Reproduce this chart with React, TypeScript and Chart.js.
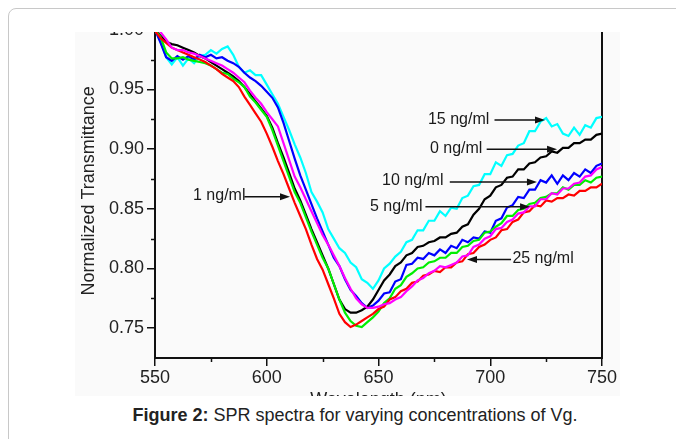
import React, { useEffect, useRef } from "react";
import { Chart, registerables } from "chart.js";

Chart.register(...registerables);

// ---------- data ----------
const WAVELENGTHS = [
  550, 552.5, 555, 557.5, 560, 562.5, 565, 567.5, 570, 572.5,
  575, 577.5, 580, 582.5, 585, 587.5, 590, 592.5, 595, 597.5,
  600, 602.5, 605, 607.5, 610, 612.5, 615, 617.5, 620, 622.5,
  625, 627.5, 630, 632.5, 635, 637.5, 640, 642.5, 645, 647.5,
  650, 652.5, 655, 657.5, 660, 662.5, 665, 667.5, 670, 672.5,
  675, 677.5, 680, 682.5, 685, 687.5, 690, 692.5, 695, 697.5,
  700, 702.5, 705, 707.5, 710, 712.5, 715, 717.5, 720, 722.5,
  725, 727.5, 730, 732.5, 735, 737.5, 740, 742.5, 745, 747.5, 750,
];

const T_0NG = [
  1.0, 0.995, 0.99, 0.988, 0.987, 0.985, 0.983, 0.981, 0.978, 0.976,
  0.973, 0.97, 0.967, 0.964, 0.961, 0.957, 0.952, 0.946, 0.94, 0.934,
  0.928, 0.918, 0.905, 0.893, 0.88, 0.867, 0.857, 0.845, 0.833, 0.822,
  0.811, 0.8, 0.787, 0.774, 0.766, 0.763, 0.763, 0.765, 0.768, 0.774,
  0.782, 0.79, 0.795, 0.802, 0.805, 0.811, 0.813, 0.818, 0.819, 0.822,
  0.823, 0.826, 0.826, 0.829, 0.83, 0.835, 0.837, 0.845, 0.85, 0.858,
  0.861, 0.868, 0.87, 0.876, 0.877, 0.883, 0.883, 0.888, 0.889, 0.893,
  0.894, 0.898, 0.897, 0.901, 0.901, 0.905, 0.905, 0.908, 0.908, 0.912, 0.913,
];

const T_1NG = [
  0.999, 0.993, 0.989, 0.985, 0.983, 0.981, 0.979, 0.977, 0.975, 0.973,
  0.97, 0.967, 0.963, 0.96, 0.957, 0.952, 0.944, 0.937, 0.93, 0.923,
  0.913, 0.902, 0.89, 0.879, 0.867, 0.855, 0.844, 0.833, 0.82, 0.808,
  0.799, 0.787, 0.775, 0.762, 0.755, 0.751, 0.753, 0.756, 0.759, 0.762,
  0.766, 0.768, 0.774, 0.776, 0.781, 0.783, 0.788, 0.789, 0.794, 0.795,
  0.798, 0.797, 0.801, 0.801, 0.805, 0.806, 0.812, 0.813, 0.818, 0.82,
  0.824, 0.826, 0.832, 0.833, 0.839, 0.841, 0.847, 0.848, 0.853, 0.852,
  0.857, 0.856, 0.859, 0.859, 0.862, 0.861, 0.865, 0.865, 0.868, 0.868, 0.871,
];

const T_5NG = [
  1.0, 0.994, 0.981, 0.976, 0.976, 0.977, 0.975, 0.974, 0.973, 0.972,
  0.97, 0.967, 0.964, 0.963, 0.959, 0.956, 0.952, 0.944, 0.939, 0.933,
  0.927, 0.916, 0.903, 0.89, 0.877, 0.864, 0.855, 0.843, 0.831, 0.82,
  0.809, 0.8, 0.787, 0.774, 0.763, 0.756, 0.752, 0.751, 0.755, 0.759,
  0.764, 0.771, 0.775, 0.783, 0.786, 0.793, 0.796, 0.8, 0.801, 0.805,
  0.806, 0.809, 0.809, 0.813, 0.813, 0.818, 0.819, 0.823, 0.824, 0.83,
  0.831, 0.835, 0.838, 0.844, 0.844, 0.849, 0.85, 0.854, 0.855, 0.859,
  0.86, 0.863, 0.863, 0.868, 0.866, 0.87, 0.87, 0.874, 0.872, 0.876, 0.877,
];

const T_10NG = [
  1.0, 0.989, 0.977, 0.974, 0.978, 0.975, 0.978, 0.975, 0.979, 0.977,
  0.979, 0.976, 0.977, 0.974, 0.972, 0.969, 0.964, 0.96, 0.957, 0.953,
  0.948, 0.943, 0.935, 0.922, 0.907, 0.892, 0.878, 0.866, 0.854, 0.842,
  0.831, 0.82, 0.809, 0.802, 0.791, 0.782, 0.777, 0.771, 0.767, 0.769,
  0.773, 0.779, 0.78, 0.789, 0.791, 0.803, 0.804, 0.809, 0.808, 0.813,
  0.811, 0.816, 0.813, 0.819, 0.817, 0.824, 0.822, 0.826, 0.825, 0.831,
  0.83, 0.84, 0.842, 0.851, 0.853, 0.86, 0.859, 0.866, 0.866, 0.874,
  0.872, 0.878, 0.871, 0.878, 0.874, 0.88, 0.877, 0.883, 0.88, 0.886, 0.888,
];

const T_15NG = [
  1.0, 0.99, 0.977, 0.971, 0.977, 0.97, 0.976, 0.972, 0.978, 0.979,
  0.983, 0.98, 0.984, 0.986, 0.979, 0.969, 0.964, 0.966, 0.962, 0.962,
  0.954, 0.946, 0.938, 0.927, 0.916, 0.904, 0.893, 0.88, 0.864, 0.856,
  0.847, 0.833, 0.825, 0.817, 0.813, 0.805, 0.801, 0.791, 0.788, 0.783,
  0.79, 0.8, 0.804, 0.81, 0.814, 0.822, 0.824, 0.832, 0.832, 0.84,
  0.84, 0.848, 0.844, 0.851, 0.85, 0.859, 0.861, 0.869, 0.87, 0.879,
  0.879, 0.889, 0.886, 0.895, 0.896, 0.903, 0.905, 0.915, 0.915, 0.923,
  0.926, 0.919, 0.921, 0.913, 0.911, 0.918, 0.912, 0.92, 0.918, 0.926, 0.927,
];

const T_25NG = [
  1.002, 0.998, 0.992, 0.985, 0.983, 0.983, 0.981, 0.98, 0.978, 0.976,
  0.974, 0.972, 0.97, 0.967, 0.964, 0.96, 0.956, 0.949, 0.943, 0.938,
  0.931, 0.925, 0.919, 0.905, 0.891, 0.877, 0.868, 0.858, 0.848, 0.838,
  0.828, 0.82, 0.811, 0.802, 0.792, 0.783, 0.775, 0.77, 0.767, 0.767,
  0.768, 0.77, 0.771, 0.774, 0.776, 0.781, 0.785, 0.79, 0.792, 0.796,
  0.798, 0.802, 0.801, 0.803, 0.805, 0.81, 0.811, 0.818, 0.82, 0.825,
  0.827, 0.833, 0.834, 0.839, 0.841, 0.846, 0.847, 0.852, 0.852, 0.858,
  0.858, 0.863, 0.862, 0.867, 0.867, 0.871, 0.872, 0.877, 0.878, 0.883, 0.885,
];

const X_TICKS = [550, 600, 650, 700, 750];
const X_MINOR = [575, 625, 675, 725];
const Y_TICKS = [0.75, 0.8, 0.85, 0.9, 0.95, 1.0];
const Y_MINOR = [0.775, 0.825, 0.875, 0.925, 0.975];

// label, text anchor [nm, T], arrow start [nm, T], arrow tip [nm, T]
const ANNOTATIONS = [
  { text: "15 ng/ml", at: [672.1, 0.925], from: [701.9, 0.9245], to: [724.5, 0.9245] },
  { text: "0 ng/ml", at: [673.0, 0.9008], from: [698.4, 0.9], to: [729.9, 0.9] },
  { text: "10 ng/ml", at: [651.6, 0.8733], from: [681.9, 0.8725], to: [720.9, 0.8725] },
  { text: "5 ng/ml", at: [646.2, 0.8517], from: [671.0, 0.8517], to: [717.8, 0.8517] },
  { text: "25 ng/ml", at: [709.9, 0.8083], from: [709.3, 0.8075], to: [689.6, 0.8075] },
  { text: "1 ng/ml", at: [567.0, 0.8608], from: [590.0, 0.86], to: [610.4, 0.86] },
];

const FONT = "'Liberation Sans', Arial, sans-serif";
const AXIS = "#111";

const pts = (vals: number[]) => WAVELENGTHS.map((x, i) => ({ x, y: vals[i] }));

const extrasPlugin = {
  id: "extras",
  afterDraw(chart: any) {
    const { ctx, chartArea, scales } = chart;
    const xs = scales.x;
    const ys = scales.y;
    ctx.save();
    ctx.strokeStyle = AXIS;
    ctx.lineWidth = 1.5;
    for (const v of Y_MINOR) {
      const y = Math.round(ys.getPixelForValue(v)) + 0.5;
      ctx.beginPath();
      ctx.moveTo(chartArea.left - 4, y);
      ctx.lineTo(chartArea.left, y);
      ctx.stroke();
    }
    for (const v of X_MINOR) {
      const x = Math.round(xs.getPixelForValue(v)) + 0.5;
      ctx.beginPath();
      ctx.moveTo(x, chartArea.bottom);
      ctx.lineTo(x, chartArea.bottom + 4);
      ctx.stroke();
    }
    // annotations
    ctx.font = `16px ${FONT}`;
    ctx.textBaseline = "middle";
    ctx.textAlign = "left";
    for (const a of ANNOTATIONS) {
      ctx.fillStyle = "#1a1a1a";
      ctx.fillText(a.text, xs.getPixelForValue(a.at[0]), ys.getPixelForValue(a.at[1]));
      const x1 = xs.getPixelForValue(a.from[0]);
      const y1 = ys.getPixelForValue(a.from[1]);
      const x2 = xs.getPixelForValue(a.to[0]);
      const y2 = ys.getPixelForValue(a.to[1]);
      const ang = Math.atan2(y2 - y1, x2 - x1);
      const hl = 10;
      const hw = 3.5;
      ctx.strokeStyle = "#111";
      ctx.lineWidth = 1.5;
      ctx.beginPath();
      ctx.moveTo(x1, y1);
      ctx.lineTo(x2 - Math.cos(ang) * hl * 0.8, y2 - Math.sin(ang) * hl * 0.8);
      ctx.stroke();
      ctx.fillStyle = "#111";
      ctx.beginPath();
      ctx.moveTo(x2, y2);
      ctx.lineTo(
        x2 - Math.cos(ang) * hl + Math.sin(ang) * hw,
        y2 - Math.sin(ang) * hl - Math.cos(ang) * hw
      );
      ctx.lineTo(
        x2 - Math.cos(ang) * hl - Math.sin(ang) * hw,
        y2 - Math.sin(ang) * hl + Math.cos(ang) * hw
      );
      ctx.closePath();
      ctx.fill();
    }
    ctx.restore();
  },
};

export default function App() {
  const ref = useRef<HTMLCanvasElement | null>(null);

  useEffect(() => {
    if (!ref.current) return;
    const ds = (label: string, vals: number[], color: string) => ({
      label,
      data: pts(vals),
      borderColor: color,
      backgroundColor: color,
      borderWidth: 2.2,
      pointRadius: 0,
      tension: 0,
      fill: false,
    });
    const chart = new Chart(ref.current, {
      type: "line",
      data: {
        datasets: [
          ds("25 ng/ml", T_25NG, "#ff00ff"),
          ds("1 ng/ml", T_1NG, "#ff0000"),
          ds("5 ng/ml", T_5NG, "#00ee00"),
          ds("0 ng/ml", T_0NG, "#000000"),
          ds("10 ng/ml", T_10NG, "#0000ff"),
          ds("15 ng/ml", T_15NG, "#00ffff"),
        ],
      },
      options: {
        animation: false,
        responsive: false,
        layout: { padding: { top: 12, left: 0, right: 0, bottom: 0 } },
        plugins: { legend: { display: false }, tooltip: { enabled: false } },
        scales: {
          x: {
            type: "linear",
            min: 550,
            max: 750,
            afterBuildTicks: (s: any) => {
              s.ticks = X_TICKS.map((v) => ({ value: v }));
            },
            afterFit: (s: any) => {
              s.height = 53;
            },
            ticks: {
              autoSkip: false,
              maxRotation: 0,
              padding: 1,
              color: "#222",
              font: { family: FONT, size: 18 },
              callback: (v: any) => String(v),
            },
            grid: {
              display: true,
              drawOnChartArea: false,
              drawTicks: true,
              tickLength: 8,
              color: AXIS,
              lineWidth: 1.5,
            },
            border: { display: true, color: AXIS, width: 2 },
            title: {
              display: true,
              text: "Wavelength (nm)",
              color: "#222",
              font: { family: FONT, size: 18 },
              padding: { top: 0, bottom: 0 },
            },
          },
          y: {
            type: "linear",
            position: "left",
            min: 0.725,
            max: 1.005,
            afterBuildTicks: (s: any) => {
              s.ticks = Y_TICKS.map((v) => ({ value: v }));
            },
            afterFit: (s: any) => {
              s.width = 80;
            },
            ticks: {
              padding: 3,
              color: "#222",
              font: { family: FONT, size: 18 },
              callback: (v: any) => Number(v).toFixed(2),
            },
            grid: {
              display: true,
              drawOnChartArea: false,
              drawTicks: true,
              tickLength: 8,
              color: AXIS,
              lineWidth: 1.5,
            },
            border: { display: true, color: AXIS, width: 2 },
            title: {
              display: true,
              text: "Normalized Transmittance",
              color: "#222",
              font: { family: FONT, size: 18 },
              padding: { top: 3, bottom: 0 },
            },
          },
          y2: {
            type: "linear",
            position: "right",
            min: 0,
            max: 1,
            afterFit: (s: any) => {
              s.width = 18;
            },
            ticks: { display: false },
            grid: { display: false, drawTicks: false },
            border: { display: true, color: AXIS, width: 2 },
          },
        },
      },
      plugins: [extrasPlugin],
    });
    return () => chart.destroy();
  }, []);

  return (
    <div style={{ position: "fixed", inset: 0, overflow: "hidden", background: "#fff" }}>
      <div
        style={{
          position: "absolute",
          left: 8,
          top: 8,
          width: 740,
          height: 500,
          border: "1px solid #c8c8c8",
          borderRadius: 8,
          boxSizing: "border-box",
        }}
      />
      <div
        style={{
          position: "absolute",
          left: 75,
          top: 32,
          width: 545,
          height: 364,
          overflow: "hidden",
          background: "#fafafa",
        }}
      >
        <canvas
          ref={ref}
          width={545}
          height={401}
          style={{ position: "absolute", left: 0, top: -22, width: 545, height: 401 }}
        />
      </div>
      <div
        style={{
          position: "absolute",
          top: 405,
          left: 355,
          transform: "translateX(-50%)",
          whiteSpace: "nowrap",
          fontFamily: FONT,
          fontSize: 18,
          lineHeight: "20px",
          color: "#222",
        }}
      >
        <b>Figure 2:</b> SPR spectra for varying concentrations of Vg.
      </div>
    </div>
  );
}
